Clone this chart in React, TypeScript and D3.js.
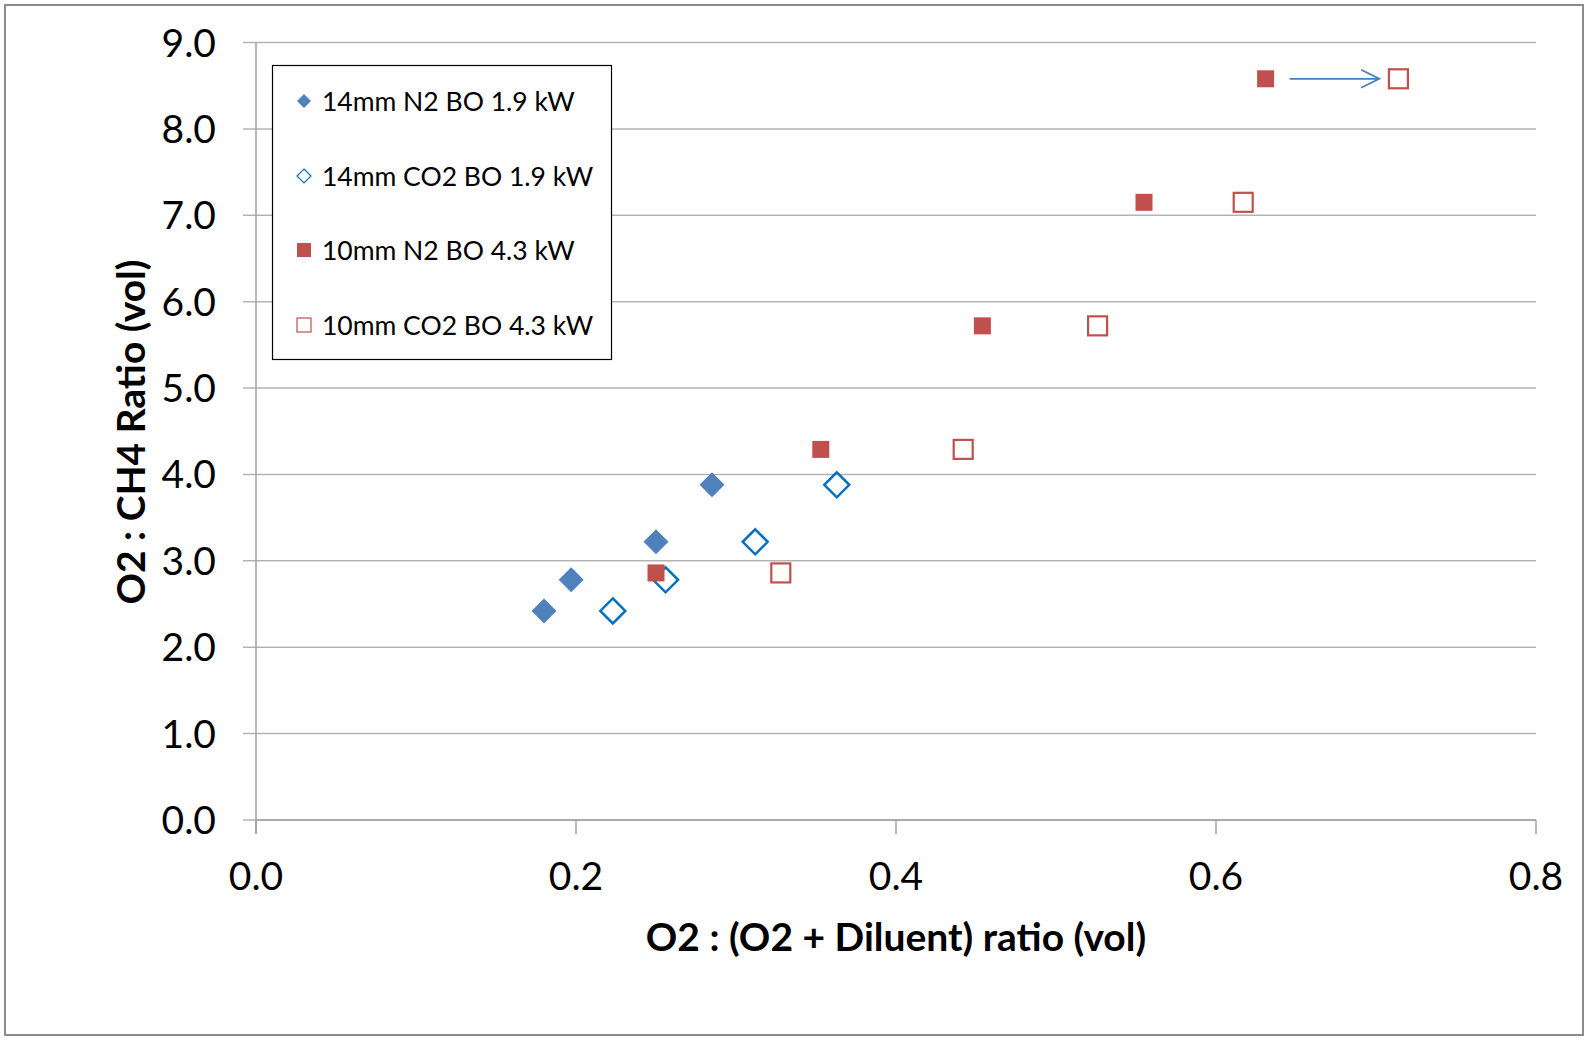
import React from "react";
import * as d3 from "d3";

const seriesNames = [
  "14mm N2 BO 1.9 kW",
  "14mm CO2 BO 1.9 kW",
  "10mm N2 BO 4.3 kW",
  "10mm CO2 BO 4.3 kW",
];

const n2_14_x = [0.18, 0.197, 0.25, 0.285];
const n2_14_y = [2.42, 2.78, 3.22, 3.88];
const co2_14_x = [0.223, 0.256, 0.312, 0.363];
const co2_14_y = [2.42, 2.78, 3.22, 3.88];
const n2_10_x = [0.25, 0.353, 0.454, 0.555, 0.631];
const n2_10_y = [2.86, 4.29, 5.72, 7.15, 8.58];
const co2_10_x = [0.328, 0.442, 0.526, 0.617, 0.714];
const co2_10_y = [2.86, 4.29, 5.72, 7.15, 8.58];

const xTicks = [0, 0.2, 0.4, 0.6, 0.8];
const yTicks = [0, 1, 2, 3, 4, 5, 6, 7, 8, 9];

// arrow from last N2 10mm point toward last CO2 10mm point
const arrowX = [0.646, 0.702];
const arrowY = 8.58;

const W = 1587;
const H = 1038;
const FONT = "Lato, 'Open Sans', sans-serif";

export default function App() {
  const x = d3.scaleLinear().domain([0, 0.8]).range([256, 1536]);
  const y = d3.scaleLinear().domain([0, 9]).range([820, 42.5]);

  const diamond = (cx: number, cy: number, r: number) =>
    `M${cx},${cy - r}L${cx + r},${cy}L${cx},${cy + r}L${cx - r},${cy}Z`;

  const legendY = [101, 176, 250, 325];

  return (
    <svg
      width={W}
      height={H}
      style={{ position: "absolute", left: 0, top: 0, background: "#fff" }}
    >
      <rect x={5} y={5} width={1578} height={1030} fill="#fff" stroke="#8c8c8c" strokeWidth={2} />
      {/* gridlines */}
      {yTicks.map((t) => (
        <line
          key={"g" + t}
          x1={243}
          x2={x(0.8)}
          y1={y(t)}
          y2={y(t)}
          stroke="#b3b3b3"
          strokeWidth={1.5}
        />
      ))}
      {/* y axis */}
      <line x1={x(0)} x2={x(0)} y1={y(9)} y2={y(0) + 14} stroke="#a0a0a0" strokeWidth={1.5} />
      {/* x ticks */}
      {xTicks.map((t) => (
        <line key={"xt" + t} x1={x(t)} x2={x(t)} y1={y(0)} y2={y(0) + 14} stroke="#a0a0a0" strokeWidth={1.5} />
      ))}
      <line x1={x(0)} x2={x(0.8)} y1={y(0)} y2={y(0)} stroke="#a0a0a0" strokeWidth={1.5} />
      {/* y tick labels */}
      {yTicks.map((t) => (
        <text
          key={"yl" + t}
          x={216}
          y={y(t)}
          dy="0.36em"
          textAnchor="end"
          fontFamily={FONT}
          fontSize={39}
          fill="#000"
        >
          {d3.format(".1f")(t)}
        </text>
      ))}
      {xTicks.map((t) => (
        <text
          key={"xl" + t}
          x={x(t)}
          y={876}
          dy="0.36em"
          textAnchor="middle"
          fontFamily={FONT}
          fontSize={39}
          fill="#000"
        >
          {d3.format(".1f")(t)}
        </text>
      ))}
      {/* axis titles */}
      <text
        x={896}
        y={937}
        dy="0.36em"
        textAnchor="middle"
        fontFamily={FONT}
        fontWeight="bold"
        fontSize={39}
      >
        O2 : (O2 + Diluent) ratio (vol)
      </text>
      <text
        transform={`translate(131,432) rotate(-90)`}
        dy="0.36em"
        textAnchor="middle"
        fontFamily={FONT}
        fontWeight="bold"
        fontSize={39}
      >
        O2 : CH4 Ratio (vol)
      </text>

      {/* series */}
      {n2_14_x.map((v, i) => (
        <path key={"a" + i} d={diamond(x(v), y(n2_14_y[i]), 12.5)} fill="#4f81bd" />
      ))}
      {co2_14_x.map((v, i) => (
        <path
          key={"b" + i}
          d={diamond(x(v), y(co2_14_y[i]), 12.5)}
          fill="none"
          stroke="#0070c0"
          strokeWidth={2.5}
        />
      ))}
      {n2_10_x.map((v, i) => (
        <rect
          key={"c" + i}
          x={x(v) - 8.5}
          y={y(n2_10_y[i]) - 8.5}
          width={17}
          height={17}
          fill="#c0504d"
        />
      ))}
      {co2_10_x.map((v, i) => (
        <rect
          key={"d" + i}
          x={x(v) - 9.5}
          y={y(co2_10_y[i]) - 9.5}
          width={19}
          height={19}
          fill="#fff"
          stroke="#c0504d"
          strokeWidth={2.2}
        />
      ))}

      {/* arrow */}
      <line
        x1={x(arrowX[0])}
        x2={x(arrowX[1])}
        y1={y(arrowY)}
        y2={y(arrowY)}
        stroke="#4a7ebb"
        strokeWidth={1.8}
      />
      <polyline
        points={`${x(arrowX[1]) - 18},${y(arrowY) - 9} ${x(arrowX[1])},${y(arrowY)} ${x(arrowX[1]) - 18},${y(arrowY) + 9}`}
        fill="none"
        stroke="#4a7ebb"
        strokeWidth={1.8}
      />

      {/* legend */}
      <rect x={272.5} y={65.5} width={339} height={294} fill="#fff" stroke="#000" strokeWidth={1.2} />
      {seriesNames.map((name, i) => {
        const ly = legendY[i];
        const mx = 304;
        let marker;
        if (i === 0) marker = <path d={diamond(mx, ly, 7)} fill="#4f81bd" />;
        else if (i === 1)
          marker = <path d={diamond(mx, ly, 7)} fill="#fff" stroke="#0070c0" strokeWidth={1.2} />;
        else if (i === 2)
          marker = <rect x={mx - 7} y={ly - 7} width={14} height={14} fill="#c0504d" />;
        else
          marker = (
            <rect x={mx - 7} y={ly - 7} width={14} height={14} fill="#fff" stroke="#c0504d" strokeWidth={1.2} />
          );
        return (
          <g key={"l" + i}>
            {marker}
            <text x={322} y={ly} dy="0.36em" fontFamily={FONT} fontSize={26.5} fill="#000">
              {name}
            </text>
          </g>
        );
      })}
    </svg>
  );
}
